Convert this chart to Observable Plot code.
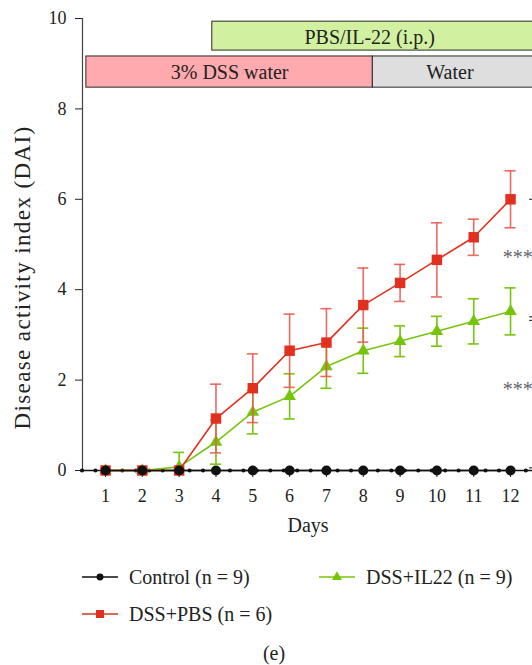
<!DOCTYPE html>
<html>
<head>
<meta charset="utf-8">
<script src="https://cdn.jsdelivr.net/npm/d3@7"></script>
<script src="https://cdn.jsdelivr.net/npm/@observablehq/plot@0.6"></script>
<style>
  html, body { margin: 0; padding: 0; background: #fff; overflow: hidden; }
  #wrap { position: relative; width: 532px; height: 665px; overflow: hidden;
          font-family: 'Liberation Serif', serif; color: #222; }
  #chart { position: absolute; left: 0; top: 0; width: 580px; }
  #chart svg { max-width: none !important; }
  .item { position: absolute; display: flex; align-items: center; font-size: 20px;
          white-space: nowrap; line-height: 24px; }
  .item svg { margin-right: 11px; }
  #caption { position: absolute; left: 0; top: 642px; width: 548px; text-align: center; font-size: 20px; }
</style>
</head>
<body>
<div id="wrap">
  <div id="chart"></div>
  <div id="legend"></div>
  <div id="caption">(e)</div>
</div>
<script>
// ---- data ----
const days = [1, 2, 3, 4, 5, 6, 7, 8, 9, 10, 11, 12];
const yTicks = [0, 2, 4, 6, 8, 10];
const xLabel = "Days";
const yLabel = "Disease activity index (DAI)";

const controlMean = [0, 0, 0, 0, 0, 0, 0, 0, 0, 0, 0, 0];
const controlSD   = [0, 0, 0, 0, 0, 0, 0, 0, 0, 0, 0, 0];
const pbsMean  = [0, 0, 0, 1.15, 1.82, 2.65, 2.83, 3.66, 4.15, 4.66, 5.16, 6.00];
const pbsSD    = [0, 0, 0, 0.76, 0.76, 0.81, 0.75, 0.82, 0.41, 0.82, 0.40, 0.63];
const il22Mean = [0, 0, 0.08, 0.63, 1.29, 1.64, 2.30, 2.65, 2.86, 3.08, 3.30, 3.52];
const il22SD   = [0, 0, 0.32, 0.49, 0.48, 0.50, 0.48, 0.50, 0.34, 0.33, 0.50, 0.52];

const seriesNames = ["Control (n = 9)", "DSS+PBS (n = 6)", "DSS+IL22 (n = 9)"];

// treatment timeline (in days)
const phaseLabels = ["3% DSS water", "Water", "PBS/IL-22 (i.p.)"];
const phaseStart  = [0.48, 8.26, 3.90];
const phaseEnd    = [8.26, 14.5, 14.5];

// significance brackets at the end of the time course
const sigLabels = ["***", "***"];
const sigTop    = [6.00, 3.32];
const sigBottom = [3.40, 0.06];
const sigMid    = [4.76, 1.84];

// ---- helpers ----
const rows = (mean, sd) => days.map((d, i) => ({
  day: d, mean: mean[i], sd: sd[i],
  lo: Math.max(0, mean[i] - sd[i]), hi: mean[i] + sd[i]
}));
const control = rows(controlMean, controlSD);
const pbs = rows(pbsMean, pbsSD);
const il22 = rows(il22Mean, il22SD);

const C = { control: "#111111", pbs: "#e1301f", pbsBar: "#eb5a50", il22: "#77c40c" };
const serif = "'Liberation Serif', serif";
const cap = 0.15; // half width of error-bar caps, in days

const phases = phaseLabels.map((label, i) => ({ label, start: phaseStart[i], end: phaseEnd[i] }));
// the IL-22 row sits above the drinking-water row
const phaseRow = { "3% DSS water": [8.47, 9.16], "Water": [8.47, 9.16], "PBS/IL-22 (i.p.)": [9.29, 9.93] };
const phaseFill = { "3% DSS water": "#ffaaae", "Water": "#dedede", "PBS/IL-22 (i.p.)": "#d2f1a0" };
const visibleEnd = 12.45;

const sig = sigLabels.map((s, i) => ({ s, top: sigTop[i], bottom: sigBottom[i], mid: sigMid[i] }));

function errorMarks(data, color, opacity) {
  const bars = data.filter(d => d.sd > 0);
  return [
    Plot.ruleX(bars, { x: "day", y1: "lo", y2: "hi", stroke: color, strokeWidth: 1.6, strokeOpacity: opacity }),
    Plot.ruleY(bars, { y: "hi", x1: d => d.day - cap, x2: d => d.day + cap, stroke: color, strokeWidth: 1.6, strokeOpacity: opacity }),
    Plot.ruleY(bars, { y: "lo", x1: d => d.day - cap, x2: d => d.day + cap, stroke: color, strokeWidth: 1.6, strokeOpacity: opacity })
  ];
}

const chart = Plot.plot({
  width: 580,
  height: 545,
  marginLeft: 82,
  marginRight: 0,
  marginTop: 18,
  marginBottom: 75,
  style: { fontFamily: serif, fontSize: "18px", color: "#222", background: "transparent", overflow: "visible", maxWidth: "none" },
  x: { domain: [0.375, 13.9], ticks: days, tickSize: 7, tickPadding: 12, tickFormat: d => String(d), label: null },
  y: { domain: [0, 10], ticks: yTicks, tickSize: 7, tickPadding: 9, label: null },
  marks: [
    // treatment timeline bars
    Plot.rect(phases, {
      x1: "start", x2: "end",
      y1: d => phaseRow[d.label][0], y2: d => phaseRow[d.label][1],
      fill: d => phaseFill[d.label], stroke: "#2a2a2a", strokeWidth: 1
    }),
    Plot.text(phases, {
      x: d => (d.start + Math.min(d.end, visibleEnd)) / 2,
      y: d => (phaseRow[d.label][0] + phaseRow[d.label][1]) / 2,
      text: "label", fontSize: 20, fill: "#222", dy: 1
    }),

    // axes lines
    Plot.ruleX([0.375], { y1: 0, y2: 10, stroke: "#444", strokeWidth: 1.2 }),
    Plot.ruleY([0], { stroke: "#111", strokeWidth: 1.6 }),
    Plot.ruleY([0], { stroke: "#111", strokeWidth: 4.2, strokeLinecap: "round", strokeDasharray: "0 13.45" }),

    // DSS+IL22
    ...errorMarks(il22, C.il22, 1),
    Plot.line(il22, { x: "day", y: "mean", stroke: C.il22, strokeWidth: 1.6 }),
    Plot.dot(il22, { x: "day", y: "mean", symbol: "triangle", r: 4.7, fill: C.il22, stroke: "none" }),

    // DSS+PBS
    ...errorMarks(pbs, C.pbsBar, 0.9),
    Plot.line(pbs, { x: "day", y: "mean", stroke: C.pbs, strokeWidth: 1.6 }),
    Plot.dot(pbs, { x: "day", y: "mean", symbol: "square", r: 5.9, fill: C.pbs, stroke: "none" }),

    // Control
    Plot.line(control, { x: "day", y: "mean", stroke: C.control, strokeWidth: 1.6 }),
    Plot.dot(control, { x: "day", y: "mean", r: 5, fill: C.control, stroke: "none" }),

    // significance brackets and stars
    Plot.ruleY(sig, { y: "top", x1: 12.52, x2: 13.2, stroke: "#333", strokeWidth: 1.2 }),
    Plot.ruleY(sig, { y: "bottom", x1: 12.52, x2: 13.2, stroke: "#333", strokeWidth: 1.2 }),
    Plot.ruleX(sig, { x: 13.2, y1: "bottom", y2: "top", stroke: "#333", strokeWidth: 1.2 }),
    Plot.text(sig, { x: 11.79, y: "mid", text: "s", textAnchor: "start", fontSize: 20, fill: "#666", dy: 2 }),

    // axis titles
    Plot.text([yLabel], {
      frameAnchor: "left", y: [4.27], text: d => d, rotate: -90, dx: -60,
      textAnchor: "middle", fontSize: 23, fill: "#222"
    }),
    Plot.text([xLabel], { frameAnchor: "bottom", x: [6.5], text: d => d, dy: 61, fontSize: 20, fill: "#222" })
  ]
});
document.getElementById("chart").appendChild(chart);

// the vertical title is set a little more loosely
d3.select(chart).selectAll("text")
  .filter(function () { return this.textContent === yLabel; })
  .attr("letter-spacing", "1.4px");

// ---- legend ----
const legendItems = [
  { name: seriesNames[0], color: C.control, symbol: "circle",   left: 82,  top: 565 },
  { name: seriesNames[2], color: C.il22,    symbol: "triangle", left: 319, top: 565 },
  { name: seriesNames[1], color: C.pbs,     symbol: "square",   left: 82,  top: 602 }
];
const symbolPath = {
  circle: d3.symbol(d3.symbolCircle, 38)(),
  triangle: d3.symbol(d3.symbolTriangle, 44)(),
  square: d3.symbol(d3.symbolSquare, 64)()
};
const legend = d3.select("#legend");
for (const it of legendItems) {
  const div = legend.append("div").attr("class", "item")
    .style("left", it.left + "px").style("top", it.top + "px");
  const svg = div.append("svg").attr("width", 36).attr("height", 16);
  svg.append("line").attr("x1", 0).attr("x2", 36).attr("y1", 8).attr("y2", 8)
    .attr("stroke", it.color).attr("stroke-width", 1.6);
  svg.append("path").attr("d", symbolPath[it.symbol]).attr("transform", "translate(18,8)")
    .attr("fill", it.color);
  div.append("span").text(it.name);
}
</script>
</body>
</html>
